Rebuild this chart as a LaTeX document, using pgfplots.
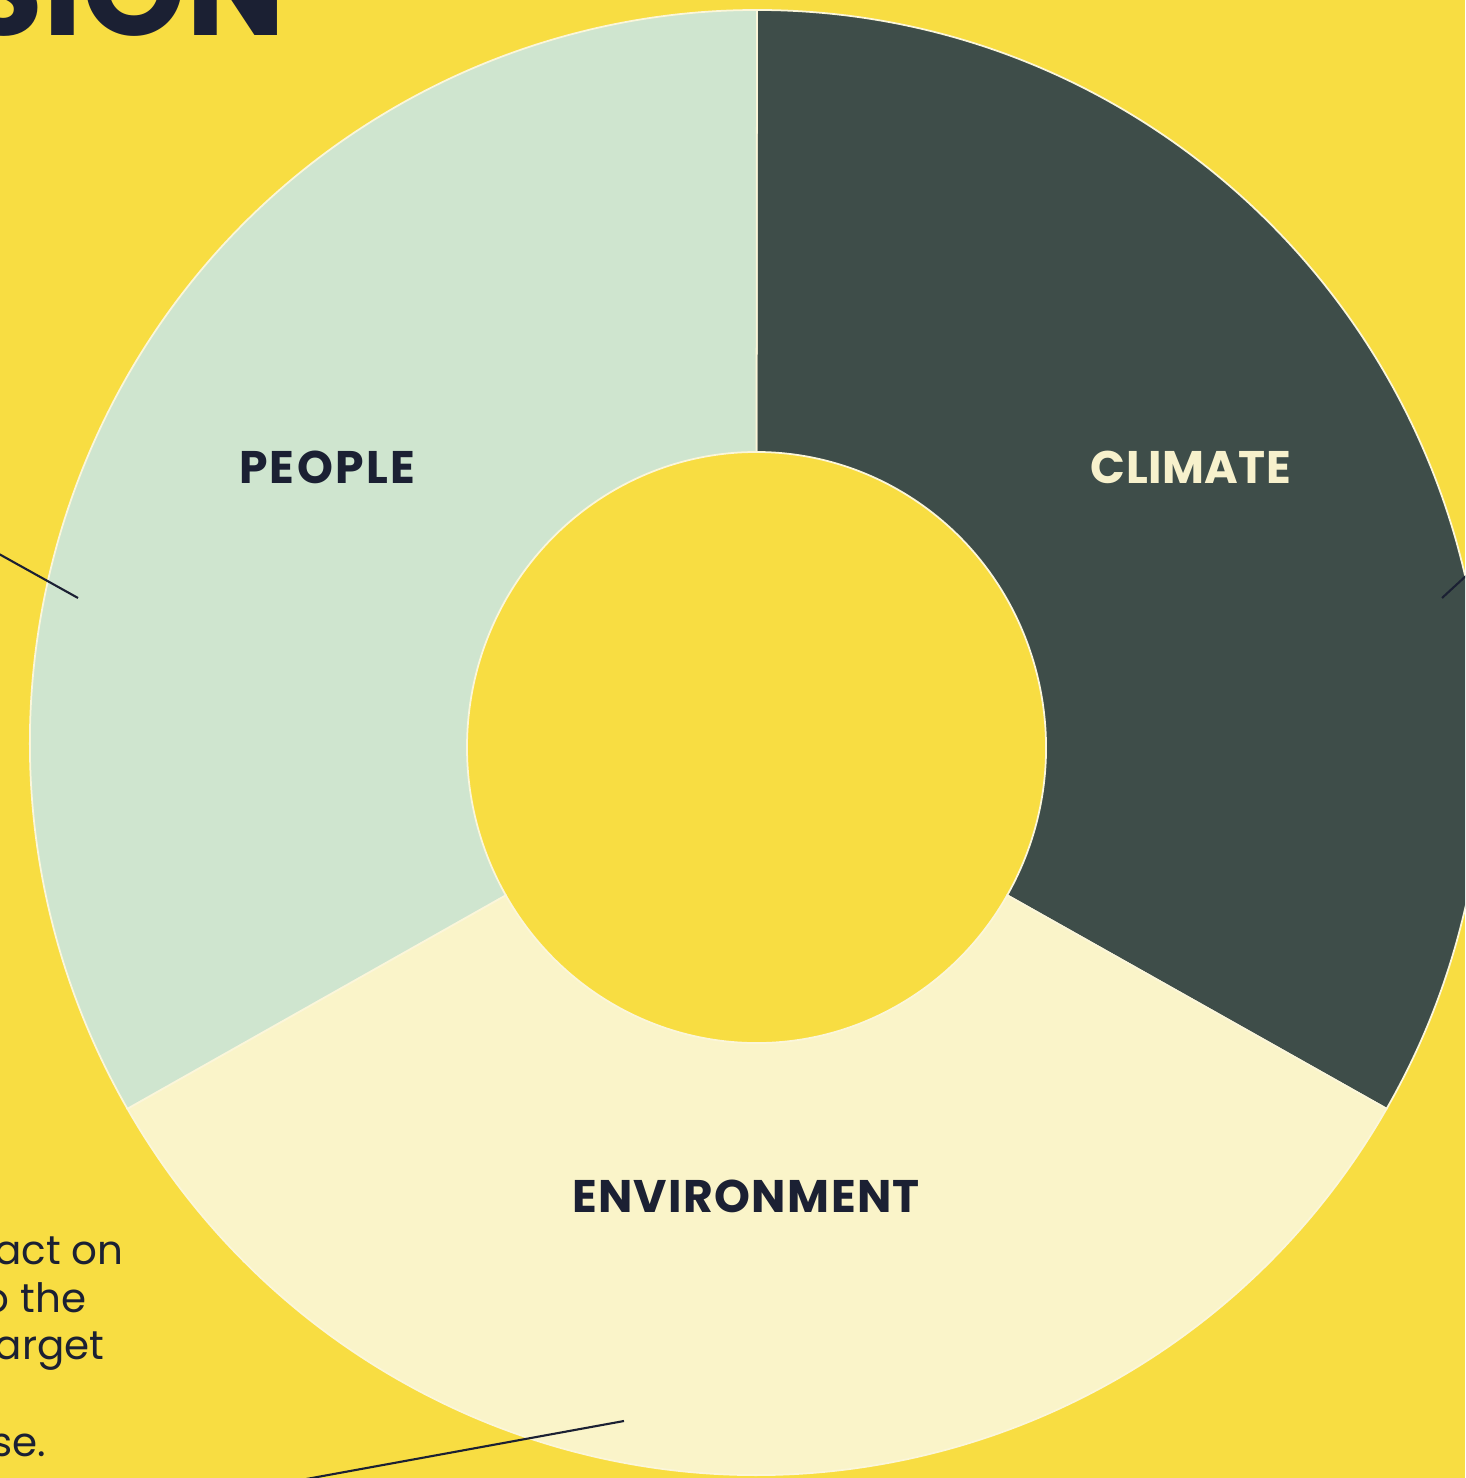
\documentclass[border=0pt]{standalone}
\usepackage{pgfplots}
\pgfplotsset{compat=1.18}
\usepackage{fontspec}
\setmainfont{Poppins}
\definecolor{bgyellow}{HTML}{F8DD42}
\definecolor{navy}{HTML}{1B2033}
\definecolor{climate}{HTML}{3E4D49}
\definecolor{people}{HTML}{CFE5CF}
\definecolor{environment}{HTML}{FAF4C9}
\definecolor{climatetext}{HTML}{F7F1CC}
\definecolor{edge}{HTML}{FBF6DA}
% shares of the three segments (equal)
\def\vClimate{1}
\def\vEnvironment{1}
\def\vPeople{1}
\pgfmathsetmacro\total{\vClimate+\vEnvironment+\vPeople}
\pgfmathsetmacro\aA{90}
\pgfmathsetmacro\aB{\aA-360*\vClimate/\total}
\pgfmathsetmacro\aC{\aB-360*\vEnvironment/\total}
\pgfmathsetmacro\aD{\aC-360*\vPeople/\total}
\newcommand\donutwedge[3]{% color, start, end
  \fill[#1,draw=edge,line width=0.5pt]
  ([shift={(axis cs:757,735.5)}]#2:7.27cm and 7.325cm) arc[start angle=#2,end angle=#3,x radius=7.27cm,y radius=7.325cm]
  -- ([shift={(axis cs:756.5,730.5)}]#3:2.895cm and 2.955cm) arc[start angle=#3,end angle=#2,x radius=2.895cm,y radius=2.955cm] -- cycle;}
\begin{document}
\begin{tikzpicture}
\useasboundingbox (0,0) rectangle (14.65,14.78);
\fill[bgyellow] (0,0) rectangle (14.65,14.78);
\begin{axis}[at={(0,0)},anchor=south west,scale only axis,
  width=14.65cm,height=14.78cm,xmin=0,xmax=1465,ymin=0,ymax=1478,
  hide axis,clip=true]
\addplot[draw=none] coordinates {(0,0)};
% wedges
\donutwedge{climate}{\aA}{\aB}
\donutwedge{environment}{\aB}{\aC}
\donutwedge{people}{\aC}{\aD}
% labels
\node[font=\bfseries\fontsize{13}{15}\selectfont\addfontfeatures{LetterSpace=5},text=navy] at (axis cs:327,1011) {PEOPLE};
\node[font=\bfseries\fontsize{13}{15}\selectfont\addfontfeatures{LetterSpace=1},text=climatetext] at (axis cs:1191,1011) {CLIMATE};
\node[font=\bfseries\fontsize{13}{15}\selectfont\addfontfeatures{LetterSpace=3},text=navy] at (axis cs:746,282) {ENVIRONMENT};
% leader lines
\draw[navy,line width=0.6pt] (axis cs:-10,929) -- (axis cs:78,880);
\draw[navy,line width=0.6pt] (axis cs:1442,880) -- (axis cs:1480,915);
\draw[navy,line width=0.6pt] (axis cs:290,-4) -- (axis cs:624,57);
% title fragment
\node[anchor=base east,inner sep=0pt,font=\bfseries\fontsize{37.5}{40}\selectfont,text=navy] at (axis cs:286,1442) {VISION};
% text fragments
\node[anchor=base east,inner sep=0pt,font=\fontsize{11.5}{14}\selectfont,text=navy] at (axis cs:124,213) {impact on};
\node[anchor=base east,inner sep=0pt,font=\fontsize{11.5}{14}\selectfont,text=navy] at (axis cs:87,165) {to the};
\node[anchor=base east,inner sep=0pt,font=\fontsize{11.5}{14}\selectfont,text=navy] at (axis cs:105,118) {target};
\node[anchor=base east,inner sep=0pt,font=\fontsize{11.5}{14}\selectfont,text=navy] at (axis cs:47,21) {use.};
\end{axis}
\end{tikzpicture}
\end{document}
